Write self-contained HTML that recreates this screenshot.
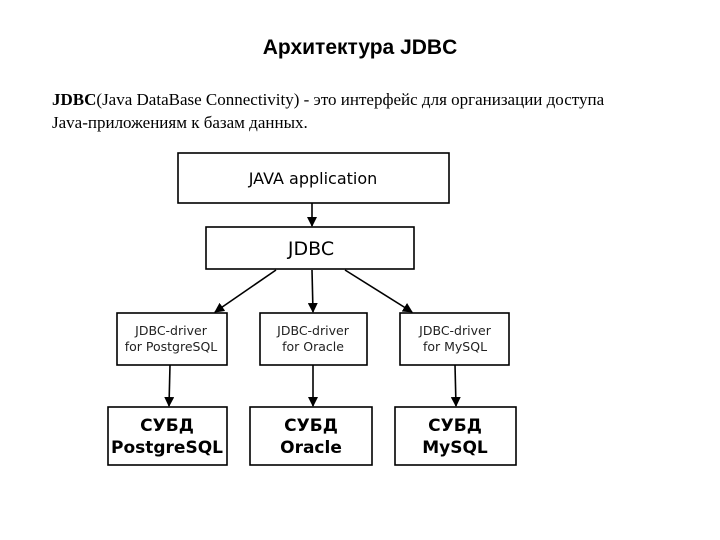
<!DOCTYPE html>
<html><head><meta charset="utf-8"><style>
body{margin:0;width:720px;height:540px;background:#fff;position:relative;overflow:hidden}
.t{position:absolute;left:0;width:720px;top:36px;text-align:center;font:bold 21px "Liberation Sans","DejaVu Sans",sans-serif}
.p{position:absolute;left:52px;top:88px;width:590px;font:17px/23px "Liberation Serif",serif}
</style></head><body>
<div class="t">Архитектура JDBC</div>
<div class="p"><b>JDBC</b>(Java DataBase Connectivity) - это интерфейс для организации доступа Java-приложениям к базам данных.</div>
<svg width="720" height="540" style="position:absolute;left:0;top:0" font-family="DejaVu Sans, sans-serif">
<defs><marker id="a" markerWidth="10" markerHeight="10" refX="9" refY="5" orient="auto" markerUnits="userSpaceOnUse"><path d="M0,0 L10,5 L0,10 z" fill="#000"/></marker></defs>
<g fill="#fff" stroke="#000" stroke-width="1.6">
<rect x="178" y="153" width="271" height="50"/>
<rect x="206" y="227" width="208" height="42"/>
<rect x="117" y="313" width="110" height="52"/>
<rect x="260" y="313" width="107" height="52"/>
<rect x="400" y="313" width="109" height="52"/>
<rect x="108" y="407" width="119" height="58"/>
<rect x="250" y="407" width="122" height="58"/>
<rect x="395" y="407" width="121" height="58"/>
</g>
<g stroke="#000" stroke-width="1.6" marker-end="url(#a)">
<line x1="312" y1="203" x2="312" y2="226"/>
<line x1="276" y1="270" x2="215" y2="312"/>
<line x1="312" y1="270" x2="313" y2="312"/>
<line x1="345" y1="270" x2="412" y2="312"/>
<line x1="170" y1="365" x2="169" y2="406"/>
<line x1="313" y1="365" x2="313" y2="406"/>
<line x1="455" y1="365" x2="456" y2="406"/>
</g>
<g text-anchor="middle" fill="#000">
<text x="313" y="184" font-size="16">JAVA application</text>
<text x="311" y="255" font-size="19">JDBC</text>
<g font-size="12.5" fill="#222"><text x="171" y="335">JDBC-driver</text><text x="171" y="351">for PostgreSQL</text>
<text x="313" y="335">JDBC-driver</text><text x="313" y="351">for Oracle</text>
<text x="455" y="335">JDBC-driver</text><text x="455" y="351">for MySQL</text></g>
<g font-size="17" font-weight="bold"><text x="167" y="431">СУБД</text><text x="167" y="453">PostgreSQL</text>
<text x="311" y="431">СУБД</text><text x="311" y="453">Oracle</text>
<text x="455" y="431">СУБД</text><text x="455" y="453">MySQL</text></g>
</g>
</svg>
</body></html>
